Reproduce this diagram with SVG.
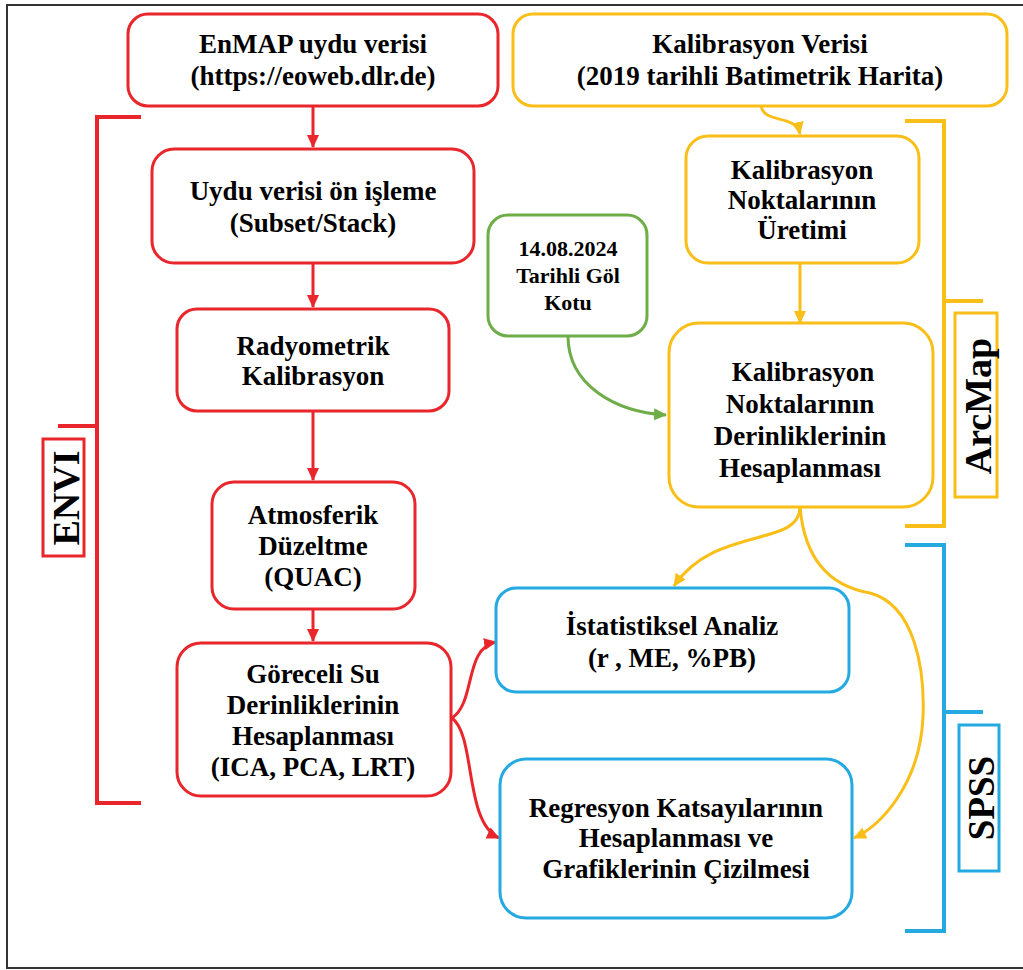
<svg xmlns="http://www.w3.org/2000/svg" width="1023" height="970" viewBox="0 0 1023 970">
<style>
text{font-family:"Liberation Serif","Times New Roman",serif;font-weight:bold;fill:#000;text-anchor:middle}
.t{font-size:27px}
.s{font-size:22px}
.lbl{font-size:38px}
.box{fill:#fff;stroke-width:3}
.red{stroke:#E8262C}
.yel{stroke:#F9BE17}
.grn{stroke:#6EAD47}
.blu{stroke:#24A9E1}
.br{fill:none;stroke-width:4}
.c{fill:none;stroke-width:3}
</style>
<defs>
<marker id="ar" markerUnits="userSpaceOnUse" markerWidth="14" markerHeight="14" refX="12" refY="7" orient="auto"><path d="M0,1 L13,7 L0,13 Z" fill="#E8262C"/></marker>
<marker id="ay" markerUnits="userSpaceOnUse" markerWidth="14" markerHeight="14" refX="12" refY="7" orient="auto"><path d="M0,1 L13,7 L0,13 Z" fill="#F9BE17"/></marker>
<marker id="ag" markerUnits="userSpaceOnUse" markerWidth="14" markerHeight="14" refX="12" refY="7" orient="auto"><path d="M0,1 L13,7 L0,13 Z" fill="#6EAD47"/></marker>
</defs>
<rect x="7" y="5" width="1030" height="963" fill="#fff" stroke="#333" stroke-width="2"/>

<g id="brackets">
<path class="br red" d="M141,117 H97 V803 H141 M97,426 H58"/>
<rect x="43" y="439" width="41" height="117" fill="none" class="red" stroke-width="3"/>
<text class="lbl" transform="translate(79,498) rotate(-90)">ENVI</text>
<path class="br yel" d="M905,121 H944 V526 H905 M944,301 H983"/>
<rect x="955" y="313" width="42" height="184" fill="none" class="yel" stroke-width="3"/>
<text class="lbl" transform="translate(991,406) rotate(-90)">ArcMap</text>
<path class="br blu" d="M905,545 H944 V931 H905 M944,712 H983"/>
<rect x="959" y="725" width="40" height="146" fill="none" class="blu" stroke-width="3"/>
<text class="lbl" style="font-size:37px" transform="translate(994,798) rotate(-90)">SPSS</text>
</g>

<g id="connectors">
<path class="c red" d="M313,106 V147" marker-end="url(#ar)"/>
<path class="c red" d="M313,263 V307" marker-end="url(#ar)"/>
<path class="c red" d="M313,411 V480" marker-end="url(#ar)"/>
<path class="c red" d="M313,609 V641" marker-end="url(#ar)"/>
<path class="c red" d="M452,718 C476,702 464,648 496,642" marker-end="url(#ar)"/>
<path class="c red" d="M452,718 C476,736 464,822 499,838" marker-end="url(#ar)"/>
<path class="c yel" d="M761,106 C764,124 796,114 800,134" marker-end="url(#ay)"/>
<path class="c yel" d="M800,263 V323" marker-end="url(#ay)"/>
<path class="c grn" d="M568,336 C568,385 615,412 666,415" marker-end="url(#ag)"/>
<path class="c yel" d="M800,507 C800,548 715,525 674,586" marker-end="url(#ay)"/>
<path class="c yel" d="M800,507 C805,565 835,587 870,593 C915,605 925,670 923,717 C920,785 880,826 854,838" marker-end="url(#ay)"/>
</g>

<g id="enmap">
<rect class="box red" x="128" y="14" width="370" height="92" rx="20"/>
<text class="t" x="313" y="53">EnMAP uydu verisi</text>
<text class="t" x="313" y="85">(https://eoweb.dlr.de)</text>
</g>
<g id="kalibrasyon-verisi">
<rect class="box yel" x="513" y="14" width="494" height="92" rx="20"/>
<text class="t" x="760" y="53">Kalibrasyon Verisi</text>
<text class="t" x="760" y="85">(2019 tarihli Batimetrik Harita)</text>
</g>
<g id="on-isleme">
<rect class="box red" x="152" y="149" width="322" height="114" rx="22"/>
<text class="t" x="313" y="200">Uydu verisi ön işleme</text>
<text class="t" x="313" y="232">(Subset/Stack)</text>
</g>
<g id="radyometrik">
<rect class="box red" x="177" y="309" width="272" height="102" rx="20"/>
<text class="t" x="313" y="355">Radyometrik</text>
<text class="t" x="313" y="385">Kalibrasyon</text>
</g>
<g id="atmosferik">
<rect class="box red" x="212" y="482" width="203" height="127" rx="22"/>
<text class="t" x="313" y="524">Atmosferik</text>
<text class="t" x="313" y="555">Düzeltme</text>
<text class="t" x="313" y="586">(QUAC)</text>
</g>
<g id="goreceli">
<rect class="box red" x="177" y="643" width="274" height="153" rx="24"/>
<text class="t" x="313" y="683">Göreceli Su</text>
<text class="t" x="313" y="714">Derinliklerinin</text>
<text class="t" x="313" y="745">Hesaplanması</text>
<text class="t" x="313" y="776">(ICA, PCA, LRT)</text>
</g>
<g id="uretimi">
<rect class="box yel" x="686" y="136" width="233" height="127" rx="22"/>
<text class="t" x="802" y="179">Kalibrasyon</text>
<text class="t" x="802" y="209">Noktalarının</text>
<text class="t" x="802" y="239">Üretimi</text>
</g>
<g id="gol-kotu">
<rect class="box grn" x="488" y="215" width="159" height="121" rx="20"/>
<text class="s" x="568" y="256">14.08.2024</text>
<text class="s" x="568" y="283">Tarihli Göl</text>
<text class="s" x="568" y="310">Kotu</text>
</g>
<g id="derinlik">
<rect class="box yel" x="669" y="323" width="264" height="184" rx="30"/>
<text class="t" x="803" y="381">Kalibrasyon</text>
<text class="t" x="800" y="413">Noktalarının</text>
<text class="t" x="800" y="445">Derinliklerinin</text>
<text class="t" x="800" y="477">Hesaplanması</text>
</g>
<g id="istatistik">
<rect class="box blu" x="496" y="588" width="353" height="104" rx="20"/>
<text class="t" x="672" y="635">İstatistiksel Analiz</text>
<text class="t" x="672" y="667">(r , ME, %PB)</text>
</g>
<g id="regresyon">
<rect class="box blu" x="500" y="759" width="352" height="159" rx="26"/>
<text class="t" x="676" y="817">Regresyon Katsayılarının</text>
<text class="t" x="676" y="847">Hesaplanması ve</text>
<text class="t" x="676" y="878">Grafiklerinin Çizilmesi</text>
</g>
</svg>
